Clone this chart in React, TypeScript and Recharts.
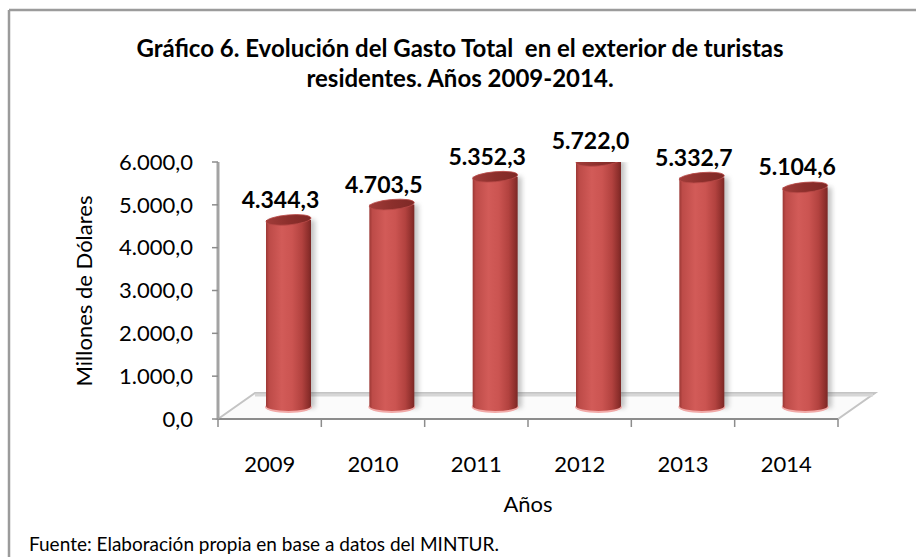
import React from "react";
import { BarChart, Bar, XAxis, YAxis, LabelList } from "recharts";

// datos del gráfico (millones de dólares)
const years = ["2009", "2010", "2011", "2012", "2013", "2014"];
const gastoTotal = [4344.3, 4703.5, 5352.3, 5722.0, 5332.7, 5104.6];
const yTicks = [0, 1000, 2000, 3000, 4000, 5000, 6000];

const data = years.map((year, i) => ({ year, gasto: gastoTotal[i] }));

const FONT = "Lato, 'Open Sans', sans-serif";
const W = 916;
const H = 557;
const PLOT_LEFT = 218;
const PLOT_RIGHT = 838;
const PLOT_TOP = 162;
const PLOT_BOTTOM = 419;
const BAND = (PLOT_RIGHT - PLOT_LEFT) / years.length;
// desplazamiento "3D" de los cilindros respecto al eje frontal
const DX = 19;
const DY = -13;
const DEPTH_X = 37;
const DEPTH_Y = -26;

// 4344.3 -> "4.344,3"
const fmt = (v: number) => {
  const [int, dec] = v.toFixed(1).split(".");
  return int.replace(/\B(?=(\d{3})+(?!\d))/g, ".") + "," + dec;
};

const Cylinder = (props: any) => {
  const { x, y, width, height } = props;
  const rx = width / 2;
  const ry = 5;
  const cx = x + width / 2 + DX;
  const top = y + DY;
  const bottom = y + height + DY;
  const body = `M${cx - rx},${top} L${cx - rx},${bottom} A${rx},${ry} 0 0 0 ${cx + rx},${bottom} L${cx + rx},${top} Z`;
  return (
    <g>
      <rect
        x={cx - rx + 4}
        y={top}
        width={width}
        height={bottom - top + 2}
        fill="#555"
        opacity={0.35}
        filter="url(#cylShadow)"
      />
      <ellipse cx={cx} cy={bottom + 1} rx={rx + 1} ry={ry + 1} fill="#f1a9a7" />
      <path d={body} fill="url(#cylBody)" />
      <ellipse
        cx={cx}
        cy={top}
        rx={rx}
        ry={ry}
        fill="url(#cylTop)"
        stroke="#b94a47"
        strokeWidth={0.8}
        transform={`rotate(-5 ${cx} ${top})`}
      />
    </g>
  );
};

const ValueLabel = (props: any) => {
  const vb = props.viewBox && props.viewBox.width != null ? props.viewBox : props;
  const { x, y, width } = vb;
  return (
    <text
      x={x + width / 2 + DX - 8}
      y={y + DY - 21}
      textAnchor="middle"
      dominantBaseline="central"
      fontFamily={FONT}
      fontWeight="bold"
      fontSize={23}
      fill="#000"
    >
      {fmt(Number(props.value))}
    </text>
  );
};

const YearTick = (props: any) => {
  const { x, y, payload, index } = props;
  const last = index === years.length - 1;
  return (
    <g>
      <line x1={x - BAND / 2} x2={x - BAND / 2} y1={PLOT_BOTTOM} y2={PLOT_BOTTOM + 8} stroke="#8c8c8c" strokeWidth={1.5} />
      {last && (
        <line x1={x + BAND / 2} x2={x + BAND / 2} y1={PLOT_BOTTOM} y2={PLOT_BOTTOM + 8} stroke="#8c8c8c" strokeWidth={1.5} />
      )}
      <text
        x={x}
        y={y + 44}
        textAnchor="middle"
        dominantBaseline="central"
        fontFamily={FONT}
        fontSize={22}
        fill="#000"
      >
        {payload.value}
      </text>
    </g>
  );
};

export default function App() {
  const floor = [
    [PLOT_LEFT, PLOT_BOTTOM],
    [PLOT_LEFT + DEPTH_X, PLOT_BOTTOM + DEPTH_Y],
    [PLOT_RIGHT + DEPTH_X, PLOT_BOTTOM + DEPTH_Y],
    [PLOT_RIGHT, PLOT_BOTTOM],
  ]
    .map((p) => p.join(","))
    .join(" ");

  return (
    <div style={{ position: "relative", width: W, height: H, background: "#fff" }}>
      <style>{`body{margin:0}`}</style>
      <svg width={W} height={H} style={{ position: "absolute", left: 0, top: 0 }}>
        <defs>
          <linearGradient id="cylBody" x1="0" y1="0" x2="1" y2="0">
            <stop offset="0%" stopColor="#9c3835" />
            <stop offset="7%" stopColor="#bd4b48" />
            <stop offset="35%" stopColor="#d25b58" />
            <stop offset="58%" stopColor="#cb5451" />
            <stop offset="80%" stopColor="#b2423f" />
            <stop offset="94%" stopColor="#8e2f2c" />
            <stop offset="100%" stopColor="#7a2725" />
          </linearGradient>
          <linearGradient id="cylTop" x1="0" y1="0" x2="1" y2="0">
            <stop offset="0%" stopColor="#a13c39" />
            <stop offset="50%" stopColor="#8c2f2c" />
            <stop offset="100%" stopColor="#7e2926" />
          </linearGradient>
          <filter id="cylShadow" x="-30%" y="-10%" width="160%" height="120%">
            <feGaussianBlur stdDeviation="2.5" />
          </filter>
        </defs>
        {/* marco */}
        <line x1={9} y1={10} x2={9} y2={H} stroke="#9b9b9b" strokeWidth={2.5} />
        <line x1={9} y1={10} x2={W} y2={10} stroke="#9b9b9b" strokeWidth={2.5} />
        {/* piso 3D */}
        <polygon points={floor} fill="#fbfbfb" stroke="#c4c4c4" strokeWidth={2} />
        <line
          x1={PLOT_LEFT + DEPTH_X}
          y1={PLOT_BOTTOM + DEPTH_Y + 2}
          x2={PLOT_RIGHT + DEPTH_X - 2}
          y2={PLOT_BOTTOM + DEPTH_Y + 2}
          stroke="#d6d6d6"
          strokeWidth={3}
        />
        {/* título */}
        <text
          x={460}
          y={57}
          textAnchor="middle"
          fontFamily={FONT}
          fontWeight="bold"
          fontSize={24}
          fill="#000"
          style={{ whiteSpace: "pre" }}
        >
          Gráfico 6. Evolución del Gasto Total  en el exterior de turistas
        </text>
        <text x={460} y={87} textAnchor="middle" fontFamily={FONT} fontWeight="bold" fontSize={24} fill="#000">
          residentes. Años 2009-2014.
        </text>
        <text
          x={83}
          y={291}
          textAnchor="middle"
          dominantBaseline="central"
          fontFamily={FONT}
          fontSize={22}
          fill="#000"
          transform="rotate(-90 83 291)"
        >
          Millones de Dólares
        </text>
        <text x={528} y={503} textAnchor="middle" dominantBaseline="central" fontFamily={FONT} fontSize={22} fill="#000">
          Años
        </text>
        <text x={29} y={543} dominantBaseline="central" fontFamily={FONT} fontSize={19} fill="#000">
          Fuente: Elaboración propia en base a datos del MINTUR.
        </text>
      </svg>
      <div style={{ position: "absolute", left: 0, top: 0 }}>
        <BarChart
          width={W}
          height={H}
          data={data}
          margin={{ top: PLOT_TOP, right: W - PLOT_RIGHT, bottom: H - PLOT_BOTTOM - 60, left: 0 }}
        >
          <XAxis
            dataKey="year"
            height={60}
            tickSize={0}
            tickMargin={0}
            tickLine={false}
            axisLine={{ stroke: "#8c8c8c", strokeWidth: 2 }}
            tick={<YearTick />}
            interval={0}
          />
          <YAxis
            width={PLOT_LEFT}
            domain={[0, 6000]}
            ticks={yTicks}
            tickFormatter={fmt}
            tickSize={6}
            tickMargin={19}
            axisLine={{ stroke: "#a3a3a3", strokeWidth: 3 }}
            tickLine={{ stroke: "#8c8c8c", strokeWidth: 1.5 }}
            tick={{ fill: "#000", fontSize: 22, fontFamily: FONT }}
            allowDataOverflow
          />
          <Bar dataKey="gasto" barSize={45} shape={<Cylinder />} isAnimationActive={false}>
            <LabelList dataKey="gasto" content={<ValueLabel />} />
          </Bar>
        </BarChart>
      </div>
    </div>
  );
}
